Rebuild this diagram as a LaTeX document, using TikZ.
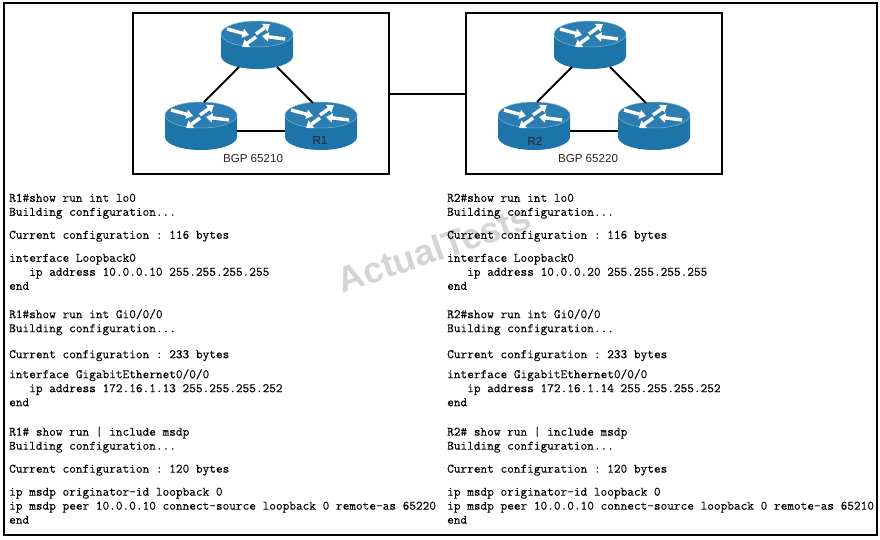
\documentclass[tikz,border=0pt]{standalone}
\usepackage{fontspec}
\setsansfont{Liberation Sans}
\setmonofont{Latin Modern Mono}[FakeBold=0.15]
\usetikzlibrary{arrows.meta,backgrounds}
\definecolor{routertop}{HTML}{2C7DB2}
\definecolor{routerbody}{HTML}{1C74A8}
\definecolor{routerrim}{HTML}{7FB4D4}

\begin{document}
\begin{tikzpicture}[
    x=1pt, y=-1pt,
    frame/.style={draw=black, line width=1.8pt},
    link/.style={draw=black, line width=2pt},
    flow/.style={-{Triangle[length=6.5pt,width=9pt]}, draw=white, line width=3.4pt},
    caption/.style={font=\sffamily\fontsize{11.6}{13}\selectfont, text=black!85, inner sep=0pt},
    config/.style={font=\ttfamily\fontsize{12.95}{14}\selectfont, anchor=north west,
                   align=left, inner sep=0pt, text=black},
    router/.pic={
      \fill[routerbody] (-36,0) -- (-36,22) arc[start angle=180, end angle=0, x radius=36, y radius=13] -- (36,0) -- cycle;
      \fill[routertop, draw=routerrim, line width=0.5pt] (0,0) ellipse[x radius=36, y radius=13];
      \draw[flow] (-30,-5) -- (-8,1);
      \draw[flow] (-1,0) -- (13,-10);
      \draw[flow] (28,5) -- (5,2);
      \draw[flow] (-1,3) -- (-15,13);
      \coordinate (-sw) at (-18,33);
      \coordinate (-se) at (20,33);
      \coordinate (-ne) at (3,-13);
      \coordinate (-nw) at (-8,-12);
      \coordinate (-e) at (36,16);
      \coordinate (-w) at (-36,16);
    }
  ]
  \useasboundingbox (0,0) rectangle (880,539);
  \node[font=\sffamily\bfseries\fontsize{36}{38}\selectfont, text=black!17, rotate=19] (mark) at (434,249) {ActualTests};
  \draw[frame] (4,3) rectangle (877,535);

  \node[frame, minimum width=256pt, minimum height=161pt] (as1) at (261,93.5) {};
  \node[frame, minimum width=256pt, minimum height=161pt] (as2) at (594,93.5) {};
  \draw[link] (as1) -- (as2);

  \pic (r1top) at (257,34) {router};
  \pic (r1left) at (201,115) {router};
  \pic (r1) at (321,115) {router};
  \pic (r2top) at (590,34) {router};
  \pic (r2) at (534,115) {router};
  \pic (r2right) at (654,115) {router};

  \draw[link] (r1top-sw) -- (r1left-ne);
  \draw[link] (r1top-se) -- (r1-nw);
  \draw[link] (r1left-e) -- (r1-w);
  \draw[link] (r2top-sw) -- (r2-ne);
  \draw[link] (r2top-se) -- (r2right-nw);
  \draw[link] (r2-e) -- (r2right-w);

  \node[caption] (r1name) at (320,141) {R1};
  \node[caption] (r2name) at (535,141) {R2};
  \node[caption] (as1name) at (253,158.5) {BGP 65210};
  \node[caption] (as2name) at (588,158.5) {BGP 65220};

  \node[config] (lo1) at (9,193.5) {R1\#show run int lo0\\
    Building configuration...\\[9pt]
    Current configuration : 116 bytes\\[9pt]
    interface Loopback0\\
    \phantom{xxx}ip address 10.0.0.10 255.255.255.255\\
    end};
  \node[config] (lo2) at (447,193.5) {R2\#show run int lo0\\
    Building configuration...\\[9pt]
    Current configuration : 116 bytes\\[9pt]
    interface Loopback0\\
    \phantom{xxx}ip address 10.0.0.20 255.255.255.255\\
    end};
  \node[config] (gi1) at (9,309) {R1\#show run int Gi0/0/0\\
    Building configuration...\\[12pt]
    Current configuration : 233 bytes\\[6pt]
    interface GigabitEthernet0/0/0\\
    \phantom{xxx}ip address 172.16.1.13 255.255.255.252\\
    end};
  \node[config] (gi2) at (447,309) {R2\#show run int Gi0/0/0\\
    Building configuration...\\[12pt]
    Current configuration : 233 bytes\\[6pt]
    interface GigabitEthernet0/0/0\\
    \phantom{xxx}ip address 172.16.1.14 255.255.255.252\\
    end};
  \node[config] (msdp1) at (9,426.5) {R1\# show run | include msdp\\
    Building configuration...\\[9pt]
    Current configuration : 120 bytes\\[9pt]
    ip msdp originator-id loopback 0\\
    ip msdp peer 10.0.0.10 connect-source loopback 0 remote-as 65220\\
    end};
  \node[config] (msdp2) at (447,426.5) {R2\# show run | include msdp\\
    Building configuration...\\[9pt]
    Current configuration : 120 bytes\\[9pt]
    ip msdp originator-id loopback 0\\
    ip msdp peer 10.0.0.10 connect-source loopback 0 remote-as 65210\\
    end};
\end{tikzpicture}
\end{document}
